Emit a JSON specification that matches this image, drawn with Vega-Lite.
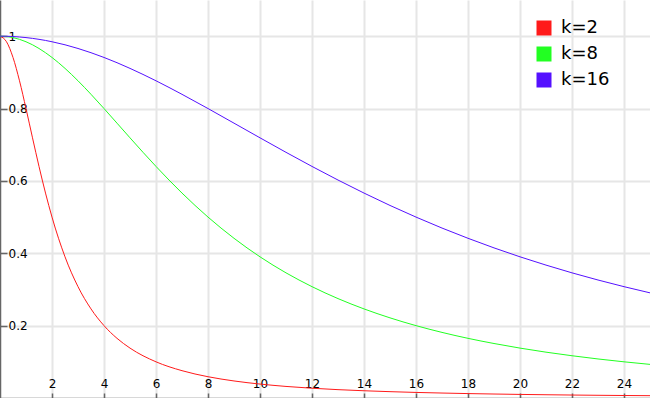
{
  "$schema": "https://vega.github.io/schema/vega-lite/v6.json",
  "width": 650,
  "height": 398,
  "padding": 0,
  "autosize": {"type": "none"},
  "background": "white",
  "config": {
    "view": {"stroke": null},
    "font": "DejaVu Sans",
    "axis": {
      "grid": true,
      "gridColor": "#e6e6e6",
      "gridWidth": 2,
      "domainColor": "#666666",
      "domainWidth": 1.5,
      "tickColor": "#666666",
      "tickWidth": 1.5,
      "labelFont": "DejaVu Sans",
      "labelFontSize": 12,
      "labelColor": "#000000",
      "title": null
    }
  },
  "data": {
    "values": [
      {"x": 0, "k=2": 1, "k=8": 1, "k=16": 1},
      {"x": 0.25, "k=2": 0.9846, "k=8": 0.999, "k=16": 0.9998},
      {"x": 0.5, "k=2": 0.9412, "k=8": 0.9961, "k=16": 0.999},
      {"x": 0.75, "k=2": 0.8767, "k=8": 0.9913, "k=16": 0.9978},
      {"x": 1, "k=2": 0.8, "k=8": 0.9846, "k=16": 0.9961},
      {"x": 1.25, "k=2": 0.7191, "k=8": 0.9762, "k=16": 0.9939},
      {"x": 1.5, "k=2": 0.64, "k=8": 0.966, "k=16": 0.9913},
      {"x": 1.75, "k=2": 0.5664, "k=8": 0.9543, "k=16": 0.9882},
      {"x": 2, "k=2": 0.5, "k=8": 0.9412, "k=16": 0.9846},
      {"x": 2.5, "k=2": 0.3902, "k=8": 0.911, "k=16": 0.9762},
      {"x": 3, "k=2": 0.3077, "k=8": 0.8767, "k=16": 0.966},
      {"x": 3.5, "k=2": 0.2462, "k=8": 0.8393, "k=16": 0.9543},
      {"x": 4, "k=2": 0.2, "k=8": 0.8, "k=16": 0.9412},
      {"x": 4.5, "k=2": 0.1649, "k=8": 0.7596, "k=16": 0.9267},
      {"x": 5, "k=2": 0.1379, "k=8": 0.7191, "k=16": 0.911},
      {"x": 6, "k=2": 0.1, "k=8": 0.64, "k=16": 0.8767},
      {"x": 7, "k=2": 0.0755, "k=8": 0.5664, "k=16": 0.8393},
      {"x": 8, "k=2": 0.0588, "k=8": 0.5, "k=16": 0.8},
      {"x": 9, "k=2": 0.0471, "k=8": 0.4414, "k=16": 0.7596},
      {"x": 10, "k=2": 0.0385, "k=8": 0.3902, "k=16": 0.7191},
      {"x": 11, "k=2": 0.032, "k=8": 0.3459, "k=16": 0.679},
      {"x": 12, "k=2": 0.027, "k=8": 0.3077, "k=16": 0.64},
      {"x": 13, "k=2": 0.0231, "k=8": 0.2747, "k=16": 0.6024},
      {"x": 14, "k=2": 0.02, "k=8": 0.2462, "k=16": 0.5664},
      {"x": 15, "k=2": 0.0175, "k=8": 0.2215, "k=16": 0.5322},
      {"x": 16, "k=2": 0.0154, "k=8": 0.2, "k=16": 0.5},
      {"x": 17, "k=2": 0.0137, "k=8": 0.1813, "k=16": 0.4697},
      {"x": 18, "k=2": 0.0122, "k=8": 0.1649, "k=16": 0.4414},
      {"x": 19, "k=2": 0.011, "k=8": 0.1506, "k=16": 0.4149},
      {"x": 20, "k=2": 0.0099, "k=8": 0.1379, "k=16": 0.3902},
      {"x": 21, "k=2": 0.009, "k=8": 0.1267, "k=16": 0.3673},
      {"x": 22, "k=2": 0.0082, "k=8": 0.1168, "k=16": 0.3459},
      {"x": 23, "k=2": 0.0075, "k=8": 0.1079, "k=16": 0.3261},
      {"x": 24, "k=2": 0.0069, "k=8": 0.1, "k=16": 0.3077},
      {"x": 25, "k=2": 0.0064, "k=8": 0.0929, "k=16": 0.2906}
    ]
  },
  "transform": [
    {"fold": ["k=2", "k=8", "k=16"], "as": ["series", "y"]}
  ],
  "mark": {"type": "line", "strokeWidth": 1, "interpolate": "monotone"},
  "encoding": {
    "x": {
      "field": "x",
      "type": "quantitative",
      "scale": {"domain": [0, 25], "nice": false, "zero": false},
      "axis": {
        "values": [2, 4, 6, 8, 10, 12, 14, 16, 18, 20, 22, 24],
        "tickSize": -5,
        "labelPadding": -3,
        "labelBaseline": "bottom",
        "labelFlush": false
      }
    },
    "y": {
      "field": "y",
      "type": "quantitative",
      "scale": {"domain": [0, 1.1], "nice": false},
      "axis": {
        "values": [0.2, 0.4, 0.6, 0.8, 1],
        "format": "~g",
        "tickSize": -7,
        "labelPadding": -1,
        "labelAlign": "left",
        "labelBaseline": "middle",
        "labelFlush": false
      }
    },
    "color": {
      "field": "series",
      "type": "nominal",
      "scale": {
        "domain": ["k=2", "k=8", "k=16"],
        "range": ["#ff1a1a", "#22ff22", "#5511ff"]
      },
      "legend": {
        "title": null,
        "orient": "none",
        "legendX": 535,
        "legendY": 19,
        "padding": 0,
        "symbolType": "square",
        "symbolSize": 225,
        "symbolStrokeWidth": 0,
        "symbolOpacity": 1,
        "labelFont": "DejaVu Sans",
        "labelFontSize": 18,
        "labelColor": "#000000",
        "labelOffset": 8,
        "rowPadding": 8,
        "encode": {
          "symbols": {
            "update": {
              "fill": {"scale": "color", "field": "value"},
              "fillOpacity": {"value": 1},
              "strokeWidth": {"value": 0}
            }
          }
        }
      }
    }
  }
}
